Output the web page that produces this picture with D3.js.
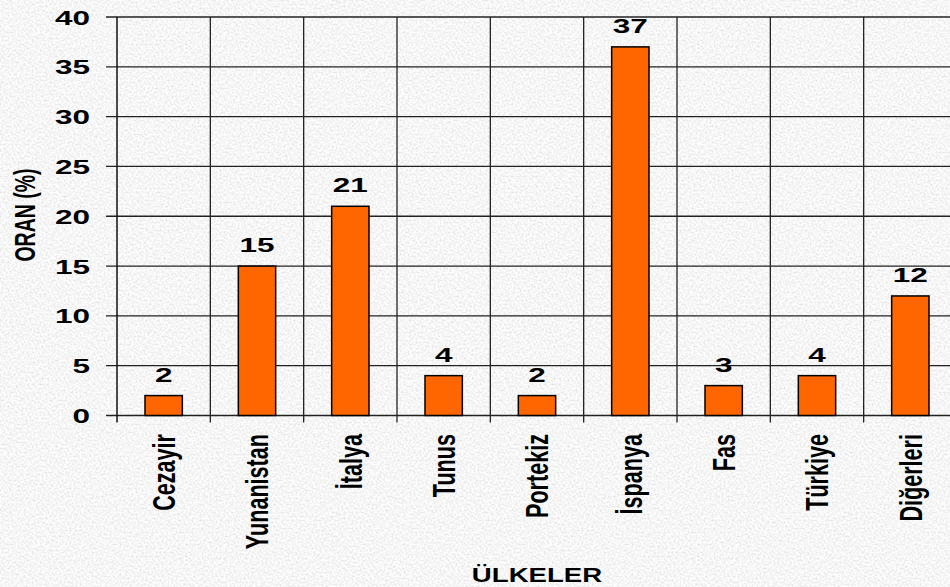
<!DOCTYPE html>
<html><head><meta charset="utf-8">
<script src="https://cdn.jsdelivr.net/npm/d3@7"></script>
<style>html,body{margin:0;padding:0;background:#ececec;}svg{display:block;}</style>
</head><body>
<script>
const categories = ["Cezayir","Yunanistan","İtalya","Tunus","Portekiz","İspanya","Fas","Türkiye","Diğerleri"];
const values = [2,15,21,4,2,37,3,4,12];
const yTicks = [0,5,10,15,20,25,30,35,40];
const yTitle = "ORAN (%)";
const xTitle = "ÜLKELER";

(function(){
const W = 950, H = 587;
const pLeft = 117, pRight = 957, pTop = 17, pBottom = 415.5;
const SX = 1.5;

const svg = d3.select("body").append("svg").attr("width", W).attr("height", H);
const defs = svg.append("defs");
const f = defs.append("filter").attr("id","noise").attr("x",0).attr("y",0).attr("width","100%").attr("height","100%");
f.append("feTurbulence").attr("type","fractalNoise").attr("baseFrequency","0.5").attr("numOctaves",3).attr("seed",7);
f.append("feColorMatrix").attr("type","matrix")
 .attr("values","0.45 0 0 0 0.695  0.45 0 0 0 0.695  0.45 0 0 0 0.695  0 0 0 0 1");
svg.append("rect").attr("width",W).attr("height",H).attr("filter","url(#noise)");

const x = d3.scaleBand().domain(categories).range([pLeft, pRight]).paddingInner(0.6).paddingOuter(0.3);
const xb = d3.scaleBand().domain(categories).range([pLeft, pRight]);
const y = d3.scaleLinear().domain([0,40]).range([pBottom, pTop]);

const font = "'Liberation Sans', Arial, sans-serif";
const gridColor = "#222";

const g = svg.append("g");
g.selectAll(".hg").data(yTicks).join("line")
  .attr("x1", pLeft - 11).attr("x2", W)
  .attr("y1", d => y(d)).attr("y2", d => y(d))
  .attr("stroke", gridColor).attr("stroke-width", 1.3);
const bounds = categories.map(c => xb(c)).slice(1);
g.selectAll(".vg").data(bounds).join("line")
  .attr("x1", d => d).attr("x2", d => d)
  .attr("y1", pTop).attr("y2", pBottom + 7)
  .attr("stroke", gridColor).attr("stroke-width", 1.3);
g.append("line").attr("x1", pLeft).attr("x2", pLeft).attr("y1", pTop).attr("y2", pBottom + 7)
  .attr("stroke", "#111").attr("stroke-width", 1.5);

svg.append("g").selectAll("text").data(yTicks).join("text")
  .attr("transform", d => `translate(90,${y(d)}) scale(${SX},1)`)
  .attr("text-anchor","end").attr("dy","0.36em")
  .attr("font-family", font).attr("font-weight","bold").attr("font-size", 21)
  .attr("fill","#000").text(d => d);

svg.append("g").selectAll("rect").data(values).join("rect")
  .attr("x", (d,i) => x(categories[i]))
  .attr("width", x.bandwidth())
  .attr("y", d => y(d))
  .attr("height", d => y(0) - y(d))
  .attr("fill", "#FF6600").attr("stroke", "#000").attr("stroke-width", 1.5);

svg.append("g").selectAll("text").data(values).join("text")
  .attr("transform", (d,i) => `translate(${x(categories[i]) + x.bandwidth()/2},${y(d) - 14}) scale(${SX},1)`)
  .attr("text-anchor","middle")
  .attr("font-family", font).attr("font-weight","bold").attr("font-size", 21)
  .attr("fill","#000").text(d => d);

svg.append("g").selectAll("text").data(categories).join("text")
  .attr("transform", d => `translate(${xb(d) + xb.bandwidth()/2},434) scale(1.45,1) rotate(-90)`)
  .attr("text-anchor","end").attr("dy","0.36em")
  .attr("font-family", font).attr("font-weight","bold").attr("font-size", 21.6)
  .attr("fill","#000").text(d => d);

svg.append("text")
  .attr("transform", `translate(24,215) scale(${SX},1) rotate(-90)`)
  .attr("text-anchor","middle").attr("dy","0.36em")
  .attr("font-family", font).attr("font-weight","bold").attr("font-size", 19.5)
  .attr("fill","#000").text(yTitle);
svg.append("text")
  .attr("transform", `translate(537,582) scale(1.38,1)`)
  .attr("text-anchor","middle")
  .attr("font-family", font).attr("font-weight","bold").attr("font-size", 20)
  .attr("fill","#000").text(xTitle);
})();
</script>
</body></html>
